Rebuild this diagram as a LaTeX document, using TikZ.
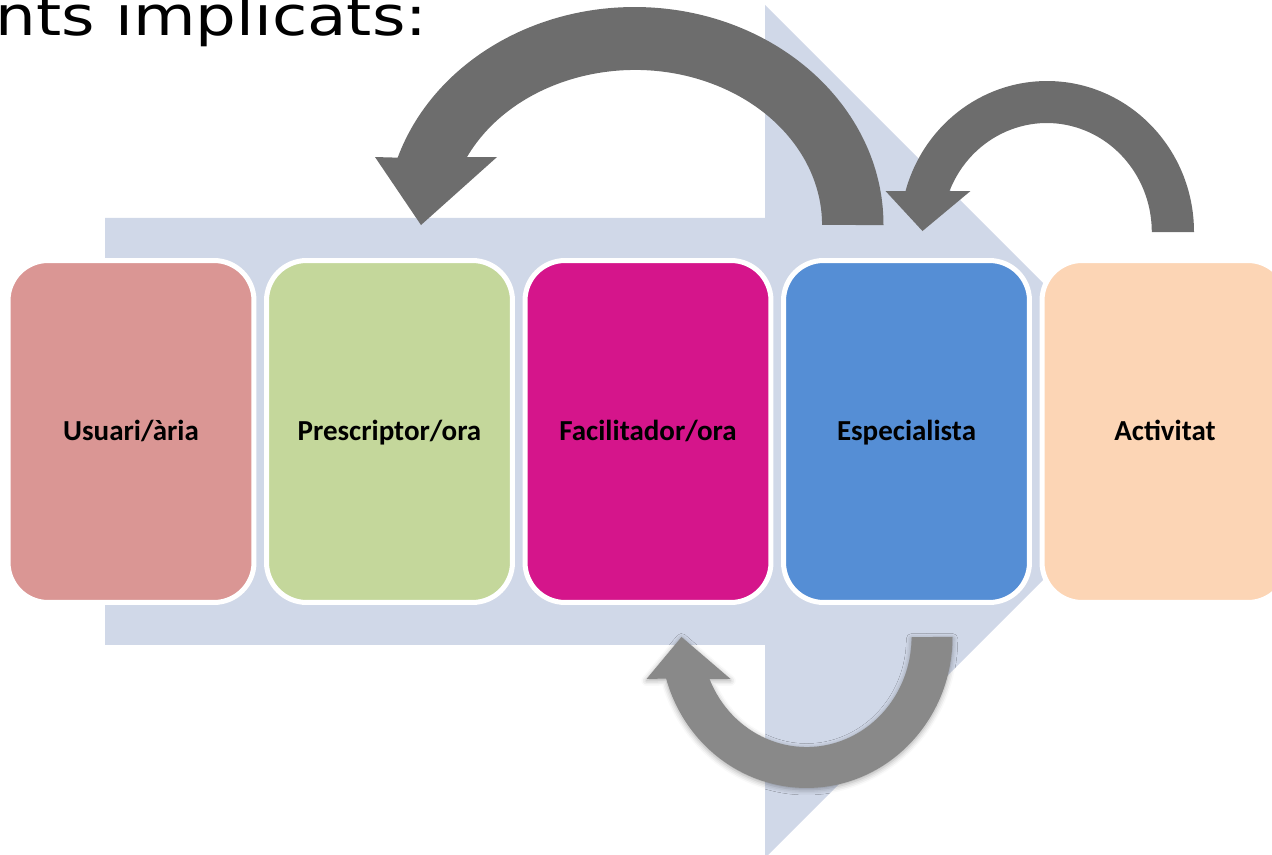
\documentclass[tikz,border=0pt]{standalone}
\usepackage{fontspec}
\usepackage{xcolor}
\usetikzlibrary{positioning, shadows.blur}
\setmainfont{Carlito}
\newfontfamily\titlefont[FakeStretch=1.18]{DejaVu Sans}
\definecolor{bgarrow}{HTML}{D0D8E8}
\definecolor{usucol}{HTML}{DA9694}
\definecolor{precol}{HTML}{C4D79B}
\definecolor{faccol}{HTML}{D5158B}
\definecolor{espcol}{HTML}{558ED5}
\definecolor{actcol}{HTML}{FCD5B5}
\definecolor{loopgray}{HTML}{6D6D6D}
\definecolor{lowgray}{HTML}{898989}
\def\stagesep{258.5}

\begin{document}
\begin{tikzpicture}[x=0.02cm, y=0.02cm]
    \tikzstyle{stage}=[rectangle, rounded corners=0.8cm, draw=white, line width=2.85pt, outer sep=0pt, inner sep=0pt, minimum width=4.92cm, minimum height=6.84cm, text height=12pt, text depth=2.3pt, font=\fontsize{16.5}{20}\selectfont\bfseries]
    \tikzstyle{loop arrow}=[fill=loopgray]
    \tikzstyle{low arrow}=[fill=lowgray, blur shadow={shadow xshift=0pt, shadow yshift=-1pt, shadow blur radius=3pt, shadow opacity=35}]

    \useasboundingbox (0,0) rectangle (1272,855);
    \clip (0,0) rectangle (1272,855);

    % Draw the heading
    \node[anchor=base west, inner sep=0pt, font=\titlefont\fontsize{31}{36}\selectfont] (title) at (-5,819) {nts implicats:};

    % Draw the background arrow
    \fill[bgarrow] (105,210) -- (765,210) -- (765,-3) -- (1191.5,423.5) -- (765,850) -- (765,637) -- (105,637) -- cycle;

    % Draw the stages
    \foreach \name / \label / \col [count=\i from 0] in {usu/{Usuari/ària}/usucol, pre/{Prescriptor/ora}/precol, fac/{Facilitador/ora}/faccol, esp/Especialista/espcol, act/Activitat/actcol}
        \node[stage, fill=\col] (\name) at (131+\i*\stagesep, 423.5) {\label};

    % Especialista back to Prescriptor
    \fill[loop arrow] ([shift={(-23,35.5)}]esp.north) arc[start angle=0, end angle=162, x radius=249, y radius=218]
        -- ([shift={(-14.5,103.5)}]pre.north) -- ([shift={(31.5,35.5)}]pre.north) -- ([shift={(107.5,103.5)}]pre.north)
        -- ([shift={(77.5,103.5)}]pre.north) arc[start angle=154, end angle=0, x radius=187, y radius=155] -- cycle;

    % Activitat back to Especialista
    \fill[loop arrow] ([shift={(29,28.5)}]act.north) arc[start angle=0, end angle=164.3, x radius=147, y radius=151]
        -- ([shift={(-21,69.5)}]esp.north) -- ([shift={(16,29.5)}]esp.north) -- ([shift={(64,69.5)}]esp.north)
        -- ([shift={(43,69.5)}]esp.north) arc[start angle=157.9, end angle=0, x radius=105, y radius=109] -- cycle;

    % Especialista back to Facilitador
    \fill[low arrow] ([shift={(46,-34.5)}]esp.south) arc[start angle=0, end angle=-164, x radius=146, y radius=151]
        -- ([shift={(-1.5,-76.5)}]fac.south) -- ([shift={(33.5,-34.5)}]fac.south) -- ([shift={(82.5,-76.5)}]fac.south)
        -- ([shift={(61.5,-76.5)}]fac.south) arc[start angle=-157.6, end angle=0, x radius=105, y radius=110] -- cycle;

\end{tikzpicture}
\end{document}
